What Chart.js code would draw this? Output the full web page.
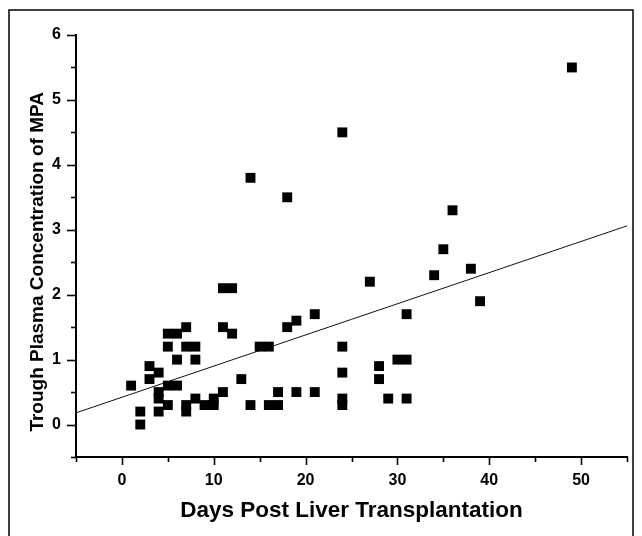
<!DOCTYPE html>
<html>
<head>
<meta charset="utf-8">
<script src="https://cdn.jsdelivr.net/npm/chart.js@4"></script>
<style>
html,body{margin:0;padding:0;background:#fff;}
#wrap{width:642px;height:536px;position:relative;}
</style>
</head>
<body>
<div id="wrap"><canvas id="c" width="642" height="536"></canvas></div>
<script>
const days = [49,24,14,18,36,35,38,34,27,39,11,12,21,31,19,18,11,12,7,5,6,5,7,8,6,8,15,16,24,30,31,28,28,24,3,3,4,1,5,6,4,4,4,2,2,5,7,7,8,9,10,10,11,14,16,17,17,19,21,24,24,29,31,13];
const conc = [5.5,4.5,3.8,3.5,3.3,2.7,2.4,2.3,2.2,1.9,2.1,2.1,1.7,1.7,1.6,1.5,1.5,1.4,1.5,1.4,1.4,1.2,1.2,1.2,1.0,1.0,1.2,1.2,1.2,1.0,1.0,0.9,0.7,0.8,0.9,0.7,0.8,0.6,0.6,0.6,0.5,0.4,0.2,0.2,0.0,0.3,0.3,0.2,0.4,0.3,0.3,0.4,0.5,0.3,0.3,0.3,0.5,0.5,0.5,0.4,0.3,0.4,0.4,0.7];
const fitX = [-5, 55];
const fitY = [0.18, 3.06];
const xTickLabels = [0,10,20,30,40,50];
const yTickLabels = [0,1,2,3,4,5,6];

const points = days.map((d,i)=>({x:d,y:conc[i]}));
const fitLine = fitX.map((d,i)=>({x:d,y:fitY[i]}));

const FONT = "'Liberation Sans', Arial, sans-serif";

const decor = {
  id:'decor',
  beforeDraw(chart){
    const ctx = chart.ctx;
    ctx.save();
    ctx.strokeStyle = '#000';
    ctx.lineWidth = 1.5;
    ctx.strokeRect(9, 10, 624, 540);
    ctx.restore();
  },
  afterDraw(chart){
    const ctx = chart.ctx;
    const xs = chart.scales.x, ys = chart.scales.y;
    ctx.save();
    ctx.strokeStyle = '#000';
    ctx.lineWidth = 1.6;
    const axisY = ys.getPixelForValue(ys.min);
    for (let v = xs.min; v <= xs.max + 1e-9; v += 5) {
      const px = Math.round(xs.getPixelForValue(v)) + 0.5;
      const len = (v % 10 === 0) ? 8 : 5;
      ctx.beginPath(); ctx.moveTo(px, axisY); ctx.lineTo(px, axisY + len); ctx.stroke();
    }
    const axisX = xs.getPixelForValue(xs.min);
    for (let v = ys.min; v <= ys.max + 1e-9; v += 0.5) {
      const py = Math.round(ys.getPixelForValue(v)) + 0.5;
      const len = (Math.abs(v - Math.round(v)) < 1e-9) ? 9 : 5;
      ctx.beginPath(); ctx.moveTo(axisX, py); ctx.lineTo(axisX - len, py); ctx.stroke();
    }
    ctx.restore();
  }
};

new Chart(document.getElementById('c'), {
  type: 'scatter',
  data: {
    datasets: [
      {
        data: points,
        pointStyle: 'rect',
        pointRadius: 7,
        pointHoverRadius: 7,
        backgroundColor: '#000',
        borderWidth: 0
      },
      {
        data: fitLine,
        showLine: true,
        borderColor: '#111',
        borderWidth: 1,
        pointRadius: 0,
        fill: false
      }
    ]
  },
  options: {
    responsive: false,
    animation: false,
    events: [],
    layout: { padding: { left: 10, right: 15, top: 35, bottom: 0 } },
    plugins: { legend: { display: false }, tooltip: { enabled: false } },
    scales: {
      x: {
        type: 'linear',
        min: -5, max: 55,
        afterFit(scale){ scale.height = 79; },
        afterBuildTicks(scale){
          const t = [];
          for (let v = -5; v <= 55; v += 5) t.push({value:v});
          scale.ticks = t;
        },
        ticks: {
          autoSkip: false,
          maxRotation: 0,
          padding: 14,
          color: '#000',
          font: { family: FONT, size: 16, weight: 'bold' },
          callback: (v) => xTickLabels.includes(v) ? String(v) : ''
        },
        grid: { display: true, drawOnChartArea: false, drawTicks: false, color: 'rgba(0,0,0,0)' },
        border: { display: true, color: '#000', width: 2 },
        title: {
          display: true,
          text: 'Days Post Liver Transplantation',
          color: '#000',
          font: { family: FONT, size: 22.5, weight: 'bold' },
          padding: { top: 0, bottom: 12 }
        }
      },
      y: {
        type: 'linear',
        min: -0.5, max: 6,
        afterFit(scale){ scale.width = 66; },
        afterBuildTicks(scale){
          const t = [];
          for (let v = -0.5; v <= 6.0001; v += 0.5) t.push({value: Math.round(v*10)/10});
          scale.ticks = t;
        },
        ticks: {
          autoSkip: false,
          padding: 15,
          color: '#000',
          font: { family: FONT, size: 16, weight: 'bold' },
          callback: (v) => yTickLabels.includes(v) ? String(v) : ''
        },
        grid: { display: true, drawOnChartArea: false, drawTicks: false, color: 'rgba(0,0,0,0)' },
        border: { display: true, color: '#000', width: 2 },
        title: {
          display: true,
          text: 'Trough Plasma Concentration of MPA      ',
          color: '#000',
          font: { family: FONT, size: 19, weight: 'bold' },
          padding: { top: 16, bottom: 0 }
        }
      }
    }
  },
  plugins: [decor]
});
</script>
</body>
</html>
